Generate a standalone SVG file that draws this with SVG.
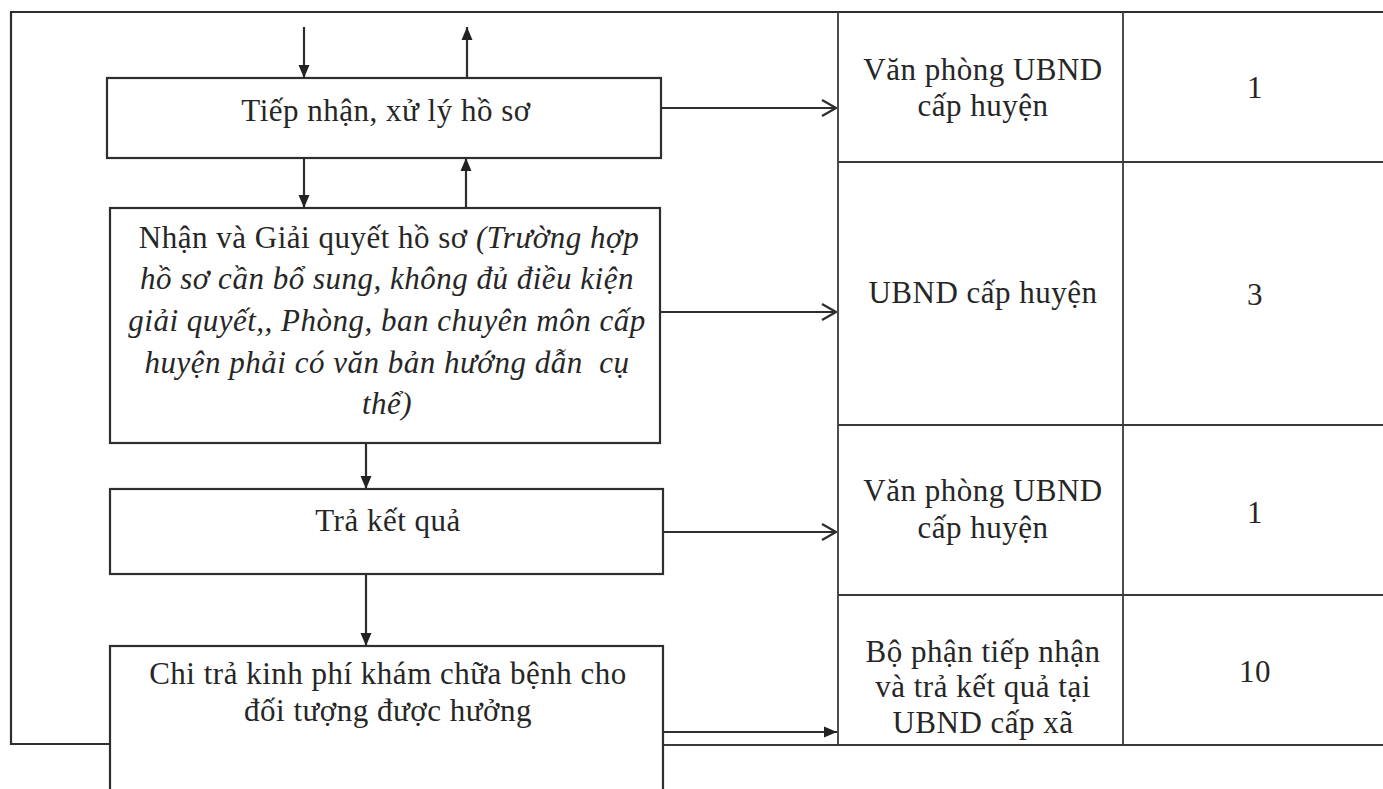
<svg xmlns="http://www.w3.org/2000/svg" width="1383" height="789" viewBox="0 0 1383 789">
<style>
.bg{fill:#fff}
.box{fill:#fff;stroke:#2e2e2e;stroke-width:2.2}
.ln{fill:none;stroke:#2e2e2e;stroke-width:2.2}
.tl{fill:none;stroke:#3a3a3a;stroke-width:1.8}
.t{font-family:"Liberation Serif","Times New Roman",serif;font-size:31px;letter-spacing:0.5px;fill:#262626;text-anchor:middle}
.i{font-style:italic}
</style>
<defs>
<marker id="fa" markerUnits="userSpaceOnUse" markerWidth="14" markerHeight="12" refX="13" refY="6" orient="auto">
<path d="M0,0.5 L13,6 L0,11.5 z" fill="#222"/>
</marker>
<marker id="oa" markerUnits="userSpaceOnUse" markerWidth="16" markerHeight="20" refX="15" refY="10" orient="auto">
<path d="M1,2 L15,10 L1,18" fill="none" stroke="#2e2e2e" stroke-width="2.2"/>
</marker>
</defs>
<rect class="bg" x="0" y="0" width="1383" height="789"/>

<g id="frame">
<path class="ln" d="M1383,12 H11 V744 H110"/>
</g>

<g id="table">
<path class="tl" d="M838,12 V745 M1123,12 V745 M838,162 H1383 M838,425 H1383 M838,595 H1383 M663,745 H1383"/>
<g id="cell-r1">
<text class="t" x="983" y="80">Văn phòng UBND</text>
<text class="t" x="983" y="116">cấp huyện</text>
<text class="t" x="1255" y="98">1</text>
</g>
<g id="cell-r2">
<text class="t" x="983" y="303">UBND cấp huyện</text>
<text class="t" x="1255" y="305">3</text>
</g>
<g id="cell-r3">
<text class="t" x="983" y="501">Văn phòng UBND</text>
<text class="t" x="983" y="538">cấp huyện</text>
<text class="t" x="1255" y="523">1</text>
</g>
<g id="cell-r4">
<text class="t" x="983" y="662">Bộ phận tiếp nhận</text>
<text class="t" x="983" y="697">và trả kết quả tại</text>
<text class="t" x="983" y="733">UBND cấp xã</text>
<text class="t" x="1255" y="682">10</text>
</g>
</g>

<g id="n1">
<rect class="box" x="107" y="78" width="554" height="80"/>
<text class="t" x="386" y="121">Tiếp nhận, xử lý hồ sơ</text>
</g>

<g id="n2">
<rect class="box" x="110" y="208" width="550" height="235"/>
<text class="t" x="389" y="248">Nhận và Giải quyết hồ sơ <tspan class="i">(Trường hợp</tspan></text>
<text class="t i" x="387" y="289">hồ sơ cần bổ sung, không đủ điều kiện</text>
<text class="t i" x="387" y="331">giải quyết,, Phòng, ban chuyên môn cấp</text>
<text class="t i" x="387" y="373">huyện phải có văn bản hướng dẫn&#160; cụ</text>
<text class="t i" x="387" y="414">thể)</text>
</g>

<g id="n3">
<rect class="box" x="110" y="489" width="553" height="85"/>
<text class="t" x="388" y="531">Trả kết quả</text>
</g>

<g id="n4">
<rect class="box" x="110" y="646" width="553" height="160"/>
<text class="t" x="388" y="684">Chi trả kinh phí khám chữa bệnh cho</text>
<text class="t" x="388" y="721">đối tượng được hưởng</text>
</g>

<g id="connectors">
<line class="ln" x1="304" y1="27" x2="304" y2="78" marker-end="url(#fa)"/>
<line class="ln" x1="467" y1="78" x2="467" y2="27" marker-end="url(#fa)"/>
<line class="ln" x1="304" y1="158" x2="304" y2="208" marker-end="url(#fa)"/>
<line class="ln" x1="466" y1="208" x2="466" y2="158" marker-end="url(#fa)"/>
<line class="ln" x1="366" y1="443" x2="366" y2="489" marker-end="url(#fa)"/>
<line class="ln" x1="366" y1="574" x2="366" y2="646" marker-end="url(#fa)"/>
<line class="ln" x1="661" y1="108" x2="836" y2="108" marker-end="url(#oa)"/>
<line class="ln" x1="660" y1="312" x2="836" y2="312" marker-end="url(#oa)"/>
<line class="ln" x1="663" y1="532" x2="836" y2="532" marker-end="url(#oa)"/>
<line class="ln" x1="663" y1="732" x2="837" y2="732" marker-end="url(#fa)"/>
</g>
</svg>
